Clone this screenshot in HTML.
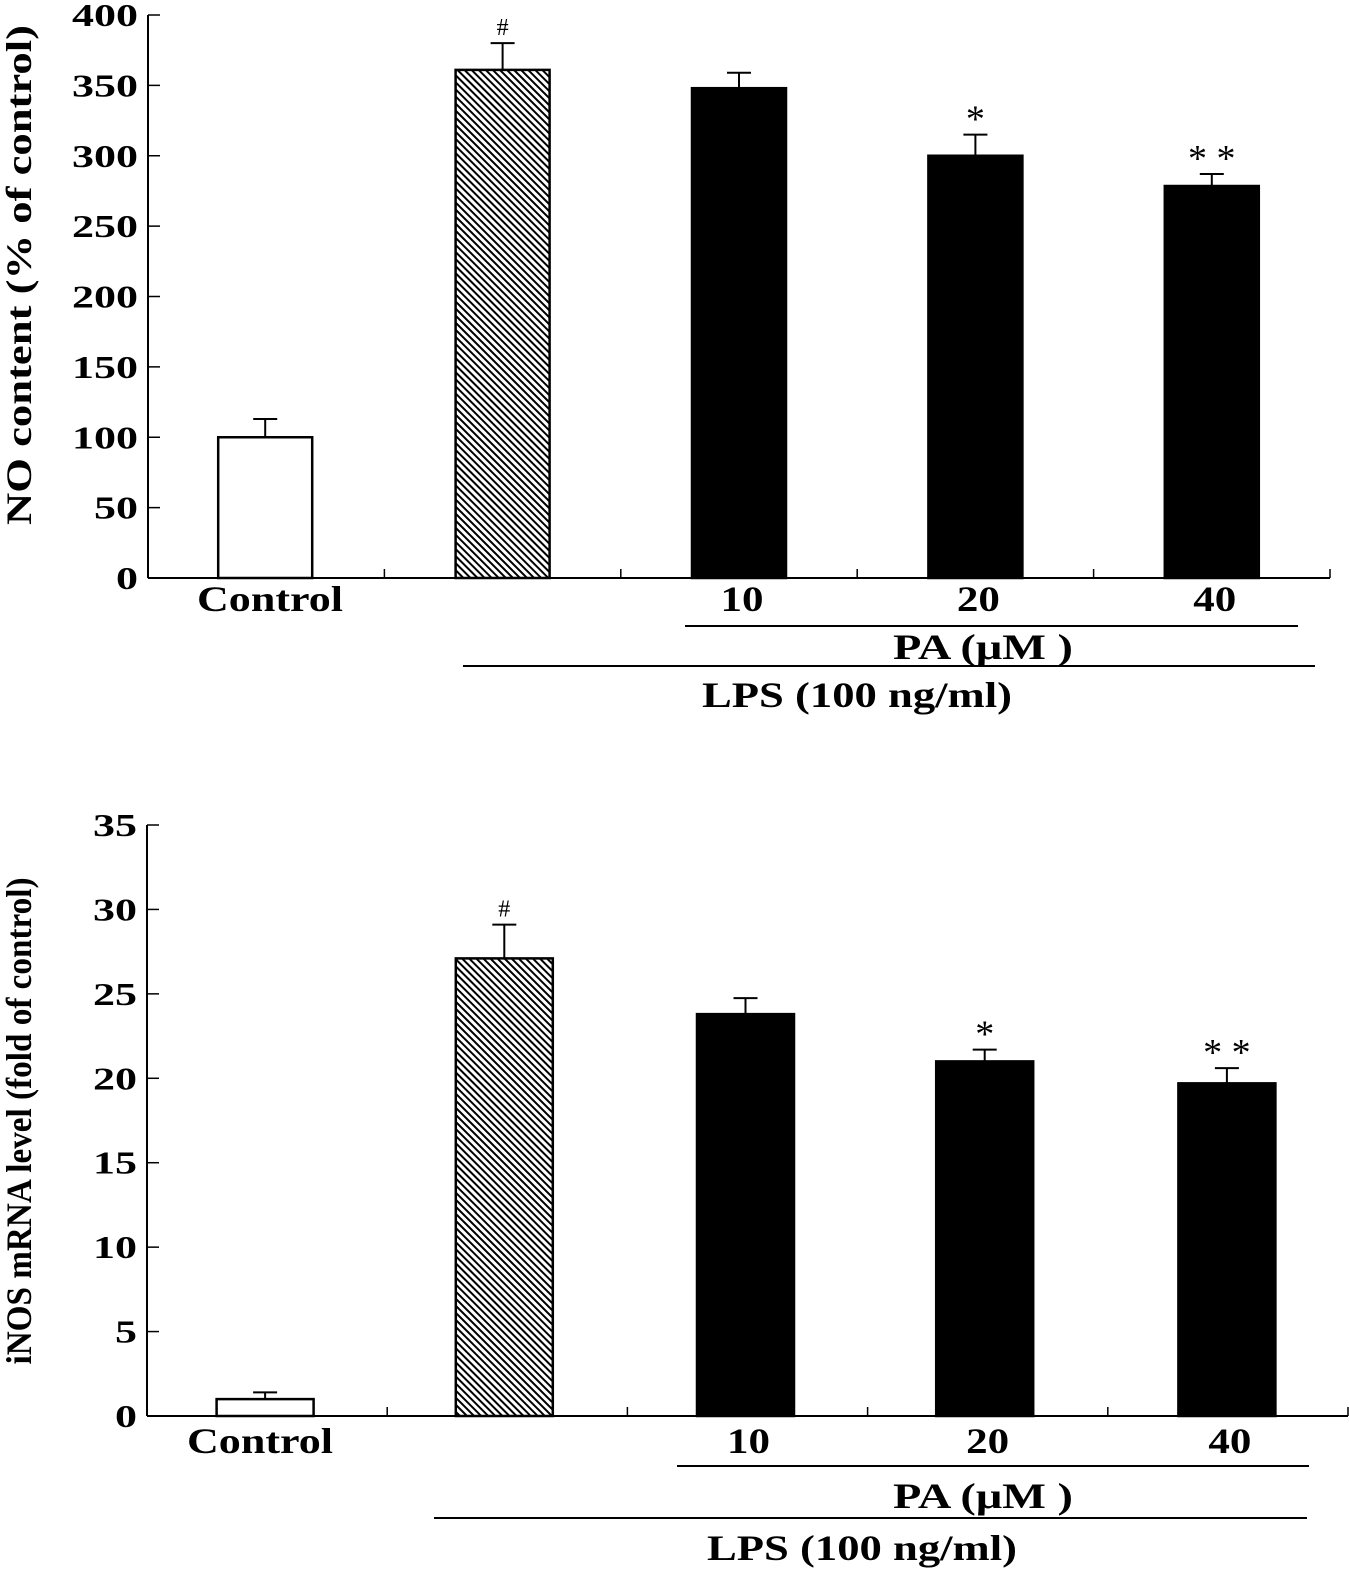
<!DOCTYPE html>
<html><head><meta charset="utf-8"><style>
html,body{margin:0;padding:0;background:#fff}
svg text{font-family:"Liberation Serif",serif;font-weight:bold;fill:#000}
</style></head><body>
<svg id="chart" width="1349" height="1575" viewBox="0 0 1349 1575" xmlns="http://www.w3.org/2000/svg">
<defs>
<pattern id="hatch" patternUnits="userSpaceOnUse" width="5" height="5" patternTransform="rotate(45)">
<rect width="5" height="5" fill="#fff"/><rect x="0" y="0" width="5" height="2" fill="#000"/>
</pattern>
</defs>
</svg>
<script>
const categories = ["Control","LPS","PA 10","PA 20","PA 40"];
const noValues = [100, 361, 348, 300, 278.5];
const noErrors = [13, 19, 11, 15, 8.5];
const noMarks = ["", "#", "", "*", "* *"];
const noTicks = [0,50,100,150,200,250,300,350,400];
const mrnaValues = [1, 27.1, 23.8, 21.0, 19.7];
const mrnaErrors = [0.4, 2.0, 0.95, 0.7, 0.9];
const mrnaMarks = ["", "#", "", "*", "* *"];
const mrnaTicks = [0,5,10,15,20,25,30,35];

const svg = document.getElementById('chart');
const NS = 'http://www.w3.org/2000/svg';
function mk(tag, attrs, parent){const e=document.createElementNS(NS,tag);for(const k in attrs)e.setAttribute(k,attrs[k]);(parent||svg).appendChild(e);return e;}

function drawPanel(cfg){
  const g = mk('g',{});
  
  
  const y = v => cfg.y0 - (v/cfg.max)*(cfg.y0-cfg.yTop);
  const catW = (cfg.xEnd-cfg.x0)/categories.length;
  const xc = i => cfg.x0 + catW*(i+0.5) + cfg.shift[i];
  const ya = mk('line',{x1:cfg.x0,y1:cfg.yTop,x2:cfg.x0,y2:cfg.y0,stroke:'#000','stroke-width':2},g);
  
  
  const xa = mk('line',{x1:cfg.x0,y1:cfg.y0,x2:cfg.xEnd,y2:cfg.y0,stroke:'#000','stroke-width':2},g);
  
  
  for(let i=1;i<=categories.length;i++){
    mk('line',{x1:cfg.x0+catW*i,y1:cfg.y0,x2:cfg.x0+catW*i,y2:cfg.y0-9,stroke:'#000','stroke-width':1.5},g);
  }
  cfg.ticks.forEach(t=>{
    mk('line',{x1:cfg.x0,y1:y(t),x2:cfg.x0+12,y2:y(t),stroke:'#000','stroke-width':1.5},g);
    const s=String(t);
    const tl = mk('text',{x:cfg.x0-10,y:y(t)+11,'text-anchor':'end','font-size':32,textLength:s.length*22,lengthAdjust:'spacingAndGlyphs'},g);
    tl.textContent = s;
    
    
  });
  cfg.values.forEach((v,i)=>{
    const cx = xc(i), bw=cfg.bw;
    const top=y(v+cfg.errors[i]);
    mk('line',{x1:cx,y1:y(v),x2:cx,y2:top,stroke:'#000','stroke-width':2},g);
    mk('line',{x1:cx-12,y1:top,x2:cx+12,y2:top,stroke:'#000','stroke-width':2},g);
    const fill = i===0?'#fff':(i===1?'url(#hatch)':'#000');
    const r = mk('rect',{x:cx-bw/2,y:y(v),width:bw,height:cfg.y0-y(v),fill:fill,stroke:'#000','stroke-width':2.5},g);
    
    
    if(cfg.marks[i]){
      const m = mk('text',{x:cx,y:top-(cfg.marks[i]==='#'?8:3),'text-anchor':'middle','font-size':cfg.marks[i]==='#'?24:38},g);
      m.style.fontWeight='normal';
      m.textContent = cfg.marks[i];
      
      
    }
  });
  const labels = ["Control","","10","20","40"];
  labels.forEach((l,i)=>{ if(!l) return;
    const t = mk('text',{x:i===0?cfg.ctrlX:xc(i)+3,y:cfg.labY,'text-anchor':'middle','font-size':36,textLength:i===0?146:43,lengthAdjust:'spacingAndGlyphs'},g);
    t.textContent=l;
    
    
  });
  mk('line',{x1:cfg.pa[0],y1:cfg.pa[1],x2:cfg.pa[2],y2:cfg.pa[1],stroke:'#000','stroke-width':2},g);
  const pa = mk('text',{x:cfg.pa[3],y:cfg.pa[4],'text-anchor':'middle','font-size':36,textLength:180,lengthAdjust:'spacingAndGlyphs'},g);
  pa.textContent='PA (\u03bcM )';
  
  
  mk('line',{x1:cfg.lps[0],y1:cfg.lps[1],x2:cfg.lps[2],y2:cfg.lps[1],stroke:'#000','stroke-width':2},g);
  const lp = mk('text',{x:cfg.lps[3],y:cfg.lps[4],'text-anchor':'middle','font-size':36,textLength:310,lengthAdjust:'spacingAndGlyphs'},g);
  lp.textContent='LPS (100 ng/ml)';
  
  
  const yt = mk('text',{x:0,y:0,'text-anchor':'middle','font-size':36,textLength:cfg.titleLen,lengthAdjust:'spacingAndGlyphs',transform:`translate(${cfg.titleX},${cfg.titleY}) rotate(-90)`},g);
  yt.textContent=cfg.title;
  
  
}

drawPanel({name:'no-content-panel',x0:148,xEnd:1330,yTop:15,y0:578,max:400,bw:94,
  shift:[-1,0,0,0,0],values:noValues,errors:noErrors,marks:noMarks,ticks:noTicks,labY:611,ctrlX:270,
  pa:[685,626,1298,983,659],lps:[463,666,1315,857,707],title:'NO content  (% of control)',titleLen:500,titleX:31,titleY:275});
drawPanel({name:'inos-mrna-panel',x0:147,xEnd:1348,yTop:825,y0:1416,max:35,bw:97,
  shift:[-2,-3,-2,-3,-1],values:mrnaValues,errors:mrnaErrors,marks:mrnaMarks,ticks:mrnaTicks,labY:1453,ctrlX:260,
  pa:[677,1466,1309,983,1508],lps:[434,1518,1307,862,1560],title:'iNOS mRNA level  (fold of control)',titleLen:487,titleX:31,titleY:1121});
</script>
</body></html>
